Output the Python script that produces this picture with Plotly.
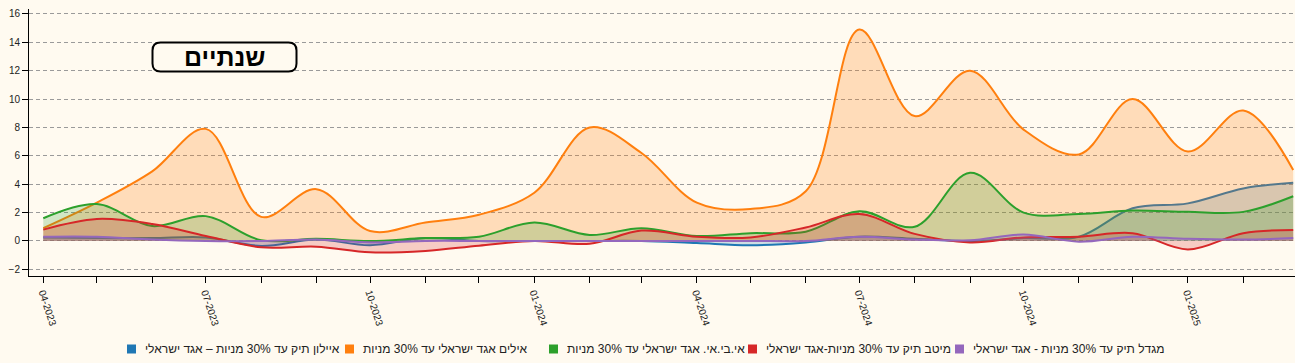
import plotly.graph_objects as go

# ---------------- data ----------------
months = [
    "2023-04-01", "2023-05-01", "2023-06-01", "2023-07-01", "2023-08-01", "2023-09-01",
    "2023-10-01", "2023-11-01", "2023-12-01", "2024-01-01", "2024-02-01", "2024-03-01",
    "2024-04-01", "2024-05-01", "2024-06-01", "2024-07-01", "2024-08-01", "2024-09-01",
    "2024-10-01", "2024-11-01", "2024-12-01", "2025-01-01", "2025-02-01", "2025-03-01",
]

ayalon = [0.25, 0.2, 0.2, 0.25, -0.35, 0.1, -0.3, 0.2, 0.0, 0.0, 0.0, 0.0,
          -0.15, -0.3, -0.1, 0.3, 0.15, 0.0, 0.2, 0.3, 2.3, 2.65, 3.7, 4.1]
ayalim = [0.9, 2.7, 4.9, 7.9, 1.7, 3.65, 0.7, 1.3, 1.85, 3.4, 8.0, 6.2,
          2.7, 2.25, 3.5, 14.9, 8.8, 12.0, 7.85, 6.1, 10.0, 6.3, 9.2, 5.0]
ibi = [1.6, 2.6, 1.05, 1.75, 0.05, 0.15, 0.0, 0.2, 0.3, 1.3, 0.42, 0.9,
       0.35, 0.55, 0.65, 2.1, 1.0, 4.8, 2.0, 1.9, 2.15, 2.05, 2.05, 3.15]
meitav = [0.8, 1.55, 1.2, 0.35, -0.45, -0.4, -0.8, -0.7, -0.33, 0.0, -0.2, 0.73,
          0.3, 0.25, 0.95, 1.9, 0.5, -0.1, 0.25, 0.3, 0.55, -0.6, 0.55, 0.78]
migdal = [0.3, 0.3, 0.1, 0.0, 0.0, 0.1, -0.1, 0.0, 0.0, 0.0, 0.0, 0.0,
          0.0, 0.0, 0.0, 0.3, 0.1, 0.05, 0.45, -0.05, 0.3, 0.15, 0.1, 0.2]

series_names = [
    "איילון תיק עד 30% מניות – אגד ישראלי",
    "אילים אגד ישראלי עד 30% מניות",
    "אי.בי.אי. אגד ישראלי עד 30% מניות",
    "מיטב תיק עד 30% מניות-אגד ישראלי",
    "מגדל תיק עד 30% מניות - אגד ישראלי",
]
series_values = [ayalon, ayalim, ibi, meitav, migdal]

tick_months = months[:-1]
tick_labels = [m[5:7] + "-" + m[0:4] if m[5:7] in ("01", "04", "07", "10") else "" for m in tick_months]
grid_months = ["2023-06-01", "2023-09-01", "2023-12-01", "2024-03-01",
               "2024-06-01", "2024-09-01", "2024-12-01"]
y_ticks = [-2, 0, 2, 4, 6, 8, 10, 12, 14, 16]
title_text = "שנתיים"

# ---------------- style / layout (page pixels) ----------------
colors = ["#1f77b4", "#ff7f0e", "#2ca02c", "#d62728", "#9467bd"]
fills = ["rgba(31,119,180,0.22)", "rgba(255,127,14,0.24)", "rgba(44,160,44,0.22)",
         "rgba(214,39,40,0.22)", "rgba(148,103,189,0.22)"]
BG = "#fffaf0"
FONT = "Arial, 'Liberation Sans', sans-serif"
W, H = 1295, 363
PLOT_L, PLOT_T, PLOT_R, PLOT_B = 29, 9, 1295, 276   # plot area in page pixels
ML, MT, MR, MB = PLOT_L, PLOT_T, W - PLOT_R, H - PLOT_B
PW = PLOT_R - PLOT_L
PH = PLOT_B - PLOT_T
x_range = ["2023-03-24", "2025-03-02"]


def px_x(p):
    return (p - PLOT_L) / PW


def px_y(p):
    return (PLOT_B - p) / PH


fig = go.Figure()
for name, vals, c, f in zip(series_names, series_values, colors, fills):
    fig.add_trace(go.Scatter(
        x=months, y=vals, name=name, mode="lines",
        line=dict(color=c, width=2, shape="spline", smoothing=1),
        fill="tozeroy", fillcolor=f, showlegend=False,
    ))

# custom legend (swatch left of text)
legend_px = [127, 345, 549, 748, 955]
legend_y = px_y(349)
shapes = []
annotations = []
for px, name, c in zip(legend_px, series_names, colors):
    shapes.append(dict(type="rect", xref="paper", yref="paper",
                       xsizemode="pixel", ysizemode="pixel",
                       xanchor=px_x(px + 4.5), yanchor=legend_y,
                       x0=-4.5, x1=4.5, y0=-4.5, y1=4.5,
                       fillcolor=c, line=dict(width=0)))
    annotations.append(dict(xref="paper", yref="paper", x=px_x(px + 16), y=legend_y,
                            xanchor="left", yanchor="middle", showarrow=False,
                            text=name, font=dict(family=FONT, size=12, color="#222")))

# title box with rounded corners
bx, by = px_x(224.5), px_y(57)
hw, hh, r = 72, 14.5, 8
path = (f"M {-hw + r},{-hh} L {hw - r},{-hh} Q {hw},{-hh} {hw},{-hh + r} "
        f"L {hw},{hh - r} Q {hw},{hh} {hw - r},{hh} L {-hw + r},{hh} "
        f"Q {-hw},{hh} {-hw},{hh - r} L {-hw},{-hh + r} Q {-hw},{-hh} {-hw + r},{-hh} Z")
shapes.append(dict(type="path", xref="paper", yref="paper",
                   xsizemode="pixel", ysizemode="pixel", xanchor=bx, yanchor=by,
                   path=path, fillcolor=BG, line=dict(color="black", width=2), layer="above"))
annotations.append(dict(xref="paper", yref="paper", x=bx, y=by, xanchor="center", yanchor="middle",
                        showarrow=False, text="<b>" + title_text + "</b>",
                        font=dict(family=FONT, size=25, color="black")))

fig.update_layout(
    width=W, height=H, autosize=False,
    margin=dict(l=ML, r=MR, t=MT, b=MB, pad=0),
    paper_bgcolor=BG, plot_bgcolor=BG,
    font=dict(family=FONT, size=10, color="#222"),
    showlegend=False, hovermode="x",
    shapes=shapes, annotations=annotations,
    xaxis=dict(type="date", range=x_range, tickmode="array", tickvals=tick_months,
               ticktext=tick_labels, tickangle=72, ticks="outside", ticklen=6,
               tickcolor="black", showgrid=False, zeroline=False,
               showline=True, linecolor="black", linewidth=1,
               tickfont=dict(size=10, color="#222")),
    xaxis2=dict(type="date", range=x_range, overlaying="x", anchor="y",
                tickmode="array", tickvals=grid_months, showticklabels=False,
                ticks="", showgrid=True, gridcolor="#9a9a9a", griddash="4px,3px",
                gridwidth=1, zeroline=False, showline=False),
    yaxis=dict(range=[-2.47, 16.35], tickmode="array", tickvals=y_ticks,
               ticks="outside", ticklen=6, tickcolor="black",
               showgrid=True, gridcolor="#9a9a9a", griddash="4px,3px", gridwidth=1,
               zeroline=False, showline=True, linecolor="black", linewidth=1,
               tickfont=dict(size=10, color="#222")),
)

fig.write_html("out.html", config={"displayModeBar": False},
               post_script="document.body.style.margin='0';document.body.style.overflow='hidden';")
